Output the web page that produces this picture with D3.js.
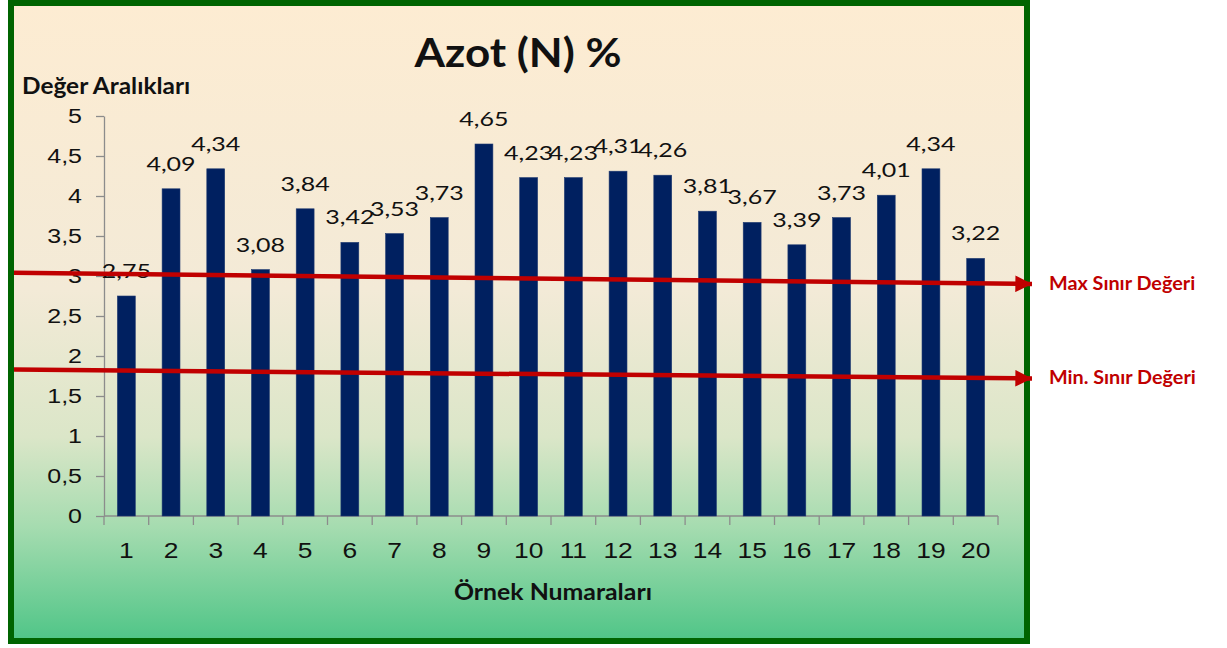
<!DOCTYPE html>
<html lang="tr">
<head>
  <meta charset="utf-8">
  <title>Azot (N) %</title>
  <script src="https://d3js.org/d3.v7.min.js"></script>
  <style>
    body { margin: 0; background: #fff; }
    svg { display: block; font-family: Lato, "Open Sans", sans-serif; }
    .axis text { fill: #111; transform-box: fill-box; }
    .axis path, .axis line { stroke: #8c8c8c; stroke-width: 1.3; }
    .ylab text { font-size: 20px; transform-origin: right center; transform: scaleX(1.25); }
    .xlab text { font-size: 22px; transform-origin: center; transform: scaleX(1.2); }
    .wide { transform-box: fill-box; transform-origin: center; }
    .wideL { transform-box: fill-box; transform-origin: left center; }
  </style>
</head>
<body>
<svg class="chart" width="1227" height="648"></svg>
<script>
  // sample numbers and nitrogen values
  var samples = ["1","2","3","4","5","6","7","8","9","10","11","12","13","14","15","16","17","18","19","20"];
  var azot = [2.75,4.09,4.34,3.08,3.84,3.42,3.53,3.73,4.65,4.23,4.23,4.31,4.26,3.81,3.67,3.39,3.73,4.01,4.34,3.22];
  var yTicks = [0,0.5,1,1.5,2,2.5,3,3.5,4,4.5,5];
  // limit arrows (value at left end, value at right end)
  var maxLimit = [3.04, 2.9];
  var minLimit = [1.83, 1.72];
  var limitNames = ["Max Sınır Değeri", "Min. Sınır Değeri"];

  var fmt = function(d) { return String(d).replace(".", ","); };

  var svg = d3.select("svg");

  var defs = svg.append("defs");
  var grad = defs.append("linearGradient").attr("id", "bg")
    .attr("x1", 0).attr("y1", 0).attr("x2", 0).attr("y2", 1);
  [[0, "#fdecd2"], [0.45, "#f3ead7"], [0.68, "#dbe6c8"], [0.82, "#a6dcb0"], [1, "#4fc587"]]
    .forEach(function(s) { grad.append("stop").attr("offset", s[0]).attr("stop-color", s[1]); });

  defs.append("marker").attr("id", "arrow")
    .attr("viewBox", "0 0 10 10").attr("refX", 10).attr("refY", 5)
    .attr("markerWidth", 4).attr("markerHeight", 3.7).attr("orient", "auto")
    .attr("markerUnits", "strokeWidth")
    .append("path").attr("d", "M0,0 L10,5 L0,10 Z").attr("fill", "#c00000");

  // frame
  svg.append("rect")
    .attr("x", 11).attr("y", 3).attr("width", 1016).attr("height", 638)
    .attr("fill", "url(#bg)").attr("stroke", "#006400").attr("stroke-width", 6);

  var x = d3.scaleBand().domain(samples).range([104, 998]).paddingInner(0).paddingOuter(0);
  var y = d3.scaleLinear().domain([0, 5]).range([516, 116]);

  svg.append("g").attr("class", "axis ylab")
    .attr("transform", "translate(104,0)")
    .call(d3.axisLeft(y).tickValues(yTicks).tickFormat(fmt).tickSizeInner(8).tickSizeOuter(0).tickPadding(14));

  var xAxis = svg.append("g").attr("class", "axis xlab")
    .attr("transform", "translate(0,516)")
    .call(d3.axisBottom(x).tickSize(0).tickPadding(26));
  xAxis.select(".domain").attr("d", "M104,0H998");
  xAxis.selectAll(".boundary")
    .data(samples.concat(["end"]))
    .enter().append("line")
    .attr("x1", function(d, i) { return i < samples.length ? x(d) : x.range()[1]; })
    .attr("x2", function(d, i) { return i < samples.length ? x(d) : x.range()[1]; })
    .attr("y1", 0).attr("y2", 9);
  xAxis.selectAll("text").attr("dy", "0.71em");

  var bw = x.bandwidth() * 0.4;
  svg.append("g").selectAll("rect")
    .data(azot).enter().append("rect")
    .attr("x", function(d, i) { return x(samples[i]) + (x.bandwidth() - bw) / 2; })
    .attr("y", function(d) { return y(d); })
    .attr("width", bw)
    .attr("height", function(d) { return y(0) - y(d); })
    .attr("fill", "#002060")
    .attr("stroke", "#1f3a70").attr("stroke-width", 0.6);

  svg.append("g").selectAll("text")
    .data(azot).enter().append("text")
    .attr("class", "wide")
    .attr("x", function(d, i) { return x(samples[i]) + x.bandwidth() / 2; })
    .attr("y", function(d) { return y(d) - 18; })
    .attr("text-anchor", "middle")
    .style("font-size", "20px").style("fill", "#111")
    .style("transform", "scaleX(1.25)")
    .text(fmt);

  svg.append("text")
    .attr("class", "wide")
    .attr("x", 518).attr("y", 67)
    .attr("text-anchor", "middle")
    .style("font-size", "40px").style("font-weight", "bold").style("fill", "#111")
    .style("transform", "scaleX(1.1)")
    .text("Azot (N) %");

  svg.append("text")
    .attr("class", "wideL")
    .attr("x", 22).attr("y", 94)
    .style("font-size", "22px").style("font-weight", "bold").style("fill", "#111")
    .style("transform", "scaleX(1.11)")
    .text("Değer Aralıkları");

  svg.append("text")
    .attr("class", "wide")
    .attr("x", 553).attr("y", 600)
    .attr("text-anchor", "middle")
    .style("font-size", "23px").style("font-weight", "bold").style("fill", "#111")
    .style("transform", "scaleX(1.08)")
    .text("Örnek Numaraları");

  // limit arrows
  [maxLimit, minLimit].forEach(function(lim, k) {
    svg.append("line")
      .attr("x1", 14).attr("y1", y(lim[0]))
      .attr("x2", 1032).attr("y2", y(lim[1]))
      .attr("stroke", "#c00000").attr("stroke-width", 4.5)
      .attr("marker-end", "url(#arrow)");
    svg.append("text")
      .attr("class", "wideL")
      .attr("x", 1049).attr("y", y(lim[1]) + 6)
      .style("font-size", "18px").style("font-weight", "bold").style("fill", "#c00000")
      .style("transform", "scaleX(1.1)")
      .text(limitNames[k]);
  });
</script>
</body>
</html>
